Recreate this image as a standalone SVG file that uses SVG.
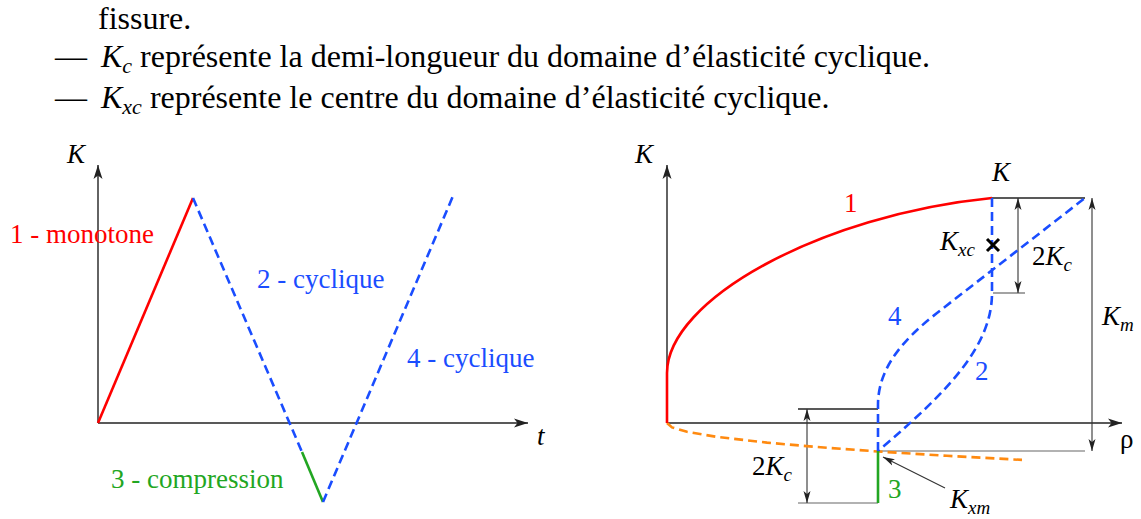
<svg xmlns="http://www.w3.org/2000/svg" width="1141" height="519" viewBox="0 0 1141 519">
<defs>
<style>
text{font-family:'Liberation Serif','Times New Roman','DejaVu Serif',serif;}
.top{font-size:32px;fill:#000;}
.lbl{font-size:27px;}
.it{font-style:italic;}
.sub{font-size:19px;font-style:italic;}
.axis{stroke:#222;stroke-width:1.4;fill:none;}
.dim{stroke:#333;stroke-width:1.1;fill:none;}
.gray{stroke:#666;stroke-width:1.2;fill:none;}
.red{stroke:#ff0000;stroke-width:2.6;fill:none;}
.blue{stroke:#1a4dff;stroke-width:2.6;fill:none;stroke-dasharray:9 5;}
.green{stroke:#22a622;stroke-width:2.6;fill:none;}
.orange{stroke:#ff8a10;stroke-width:2.6;fill:none;stroke-dasharray:9 5;}
</style>
<marker id="ah" markerUnits="userSpaceOnUse" markerWidth="14" markerHeight="10" refX="14" refY="5" orient="auto-start-reverse">
<path d="M0,0.5 L14,5 L0,9.5 L3.5,5 z" fill="#222"/>
</marker>
<marker id="ad" markerUnits="userSpaceOnUse" markerWidth="12" markerHeight="8" refX="12" refY="4" orient="auto-start-reverse">
<path d="M0,0.5 L12,4 L0,7.5 L3,4 z" fill="#222"/>
</marker>
</defs>

<g id="header" font-family="Liberation Serif, serif">
<text class="top" x="98" y="29" font-family="Liberation Serif, serif">fissure.</text>
<text class="top" x="55" y="67" font-family="Liberation Serif, serif">—<tspan x="101" class="it">K</tspan><tspan font-size="22" font-style="italic" dy="6">c</tspan><tspan dy="-6"> représente la demi-longueur du domaine d’élasticité cyclique.</tspan></text>
<text class="top" x="55" y="108" font-family="Liberation Serif, serif">—<tspan x="101" class="it">K</tspan><tspan font-size="22" font-style="italic" dy="6">xc</tspan><tspan dy="-6"> représente le centre du domaine d’élasticité cyclique.</tspan></text>
</g>

<g id="left-chart" font-family="Liberation Serif, serif">
<g id="left-axes">
<line class="axis" x1="98" y1="423" x2="98" y2="165" marker-end="url(#ah)"/>
<line class="axis" x1="98" y1="423" x2="528" y2="423" marker-end="url(#ah)"/>
<text class="lbl it" x="67" y="163" font-family="Liberation Serif, serif">K</text>
<text class="lbl it" x="537" y="445" font-family="Liberation Serif, serif">t</text>
</g>
<g id="left-curves">
<line class="red" x1="98" y1="423" x2="193" y2="198"/>
<line class="blue" x1="193" y1="198" x2="302" y2="452"/>
<line class="green" x1="302" y1="452" x2="323" y2="502"/>
<line class="blue" x1="323" y1="502" x2="453" y2="196"/>
</g>
<g id="left-labels">
<text class="lbl" x="10" y="243" fill="#ff0000" font-family="Liberation Serif, serif">1 - monotone</text>
<text class="lbl" x="257" y="288" fill="#1a4dff" font-family="Liberation Serif, serif">2 - cyclique</text>
<text class="lbl" x="407" y="367" fill="#1a4dff" font-family="Liberation Serif, serif">4 - cyclique</text>
<text class="lbl" x="111" y="488" fill="#22a622" font-family="Liberation Serif, serif">3 - compression</text>
</g>
</g>

<g id="right-chart" font-family="Liberation Serif, serif">
<g id="right-axes">
<line class="axis" x1="667" y1="423" x2="667" y2="165" marker-end="url(#ah)"/>
<line class="axis" x1="667" y1="423" x2="1122" y2="423" marker-end="url(#ah)"/>
<text class="lbl it" x="635" y="163" font-family="Liberation Serif, serif">K</text>
<text class="lbl" x="1120" y="448" font-family="Liberation Sans, sans-serif">ρ</text>
</g>
<g id="connectors">
<line class="axis" x1="992" y1="198" x2="1085" y2="198"/>
<line class="gray" x1="993" y1="293" x2="1025" y2="293"/>
<line class="dim" x1="1018" y1="198" x2="1018" y2="293" marker-start="url(#ad)" marker-end="url(#ad)"/>
<line class="gray" x1="878" y1="451" x2="1085" y2="451"/>
<line class="dim" x1="1092" y1="198" x2="1092" y2="451" marker-start="url(#ad)" marker-end="url(#ad)"/>
<line class="axis" x1="798" y1="409" x2="878" y2="409"/>
<line class="gray" x1="798" y1="503" x2="878" y2="503"/>
<line class="dim" x1="807" y1="409" x2="807" y2="503" marker-start="url(#ad)" marker-end="url(#ad)"/>
<line class="dim" x1="945" y1="488" x2="883" y2="457" marker-end="url(#ad)"/>
</g>
<g id="right-curves">
<path class="orange" d="M667,423 L672,427.4 L687,431.8 L717,436.9 L767,442.6 L817,447 L878,451.5 L947,455.8 L1022,459.9"/>
<path class="red" d="M667,423 L667,373 C667,300 820,215 992,198"/>
<path class="blue" d="M992,198 L992,293 C992,345 950,390 878,451"/>
<path class="blue" d="M878,451 L878,405 C878,370 900,342 937,313 L1085,198"/>
<line class="green" x1="878" y1="451" x2="878" y2="503"/>
<path d="M987,239 L999,251 M999,239 L987,251" stroke="#000" stroke-width="3"/>
</g>
<g id="right-labels">
<text class="lbl it" x="992" y="181" font-family="Liberation Serif, serif">K</text>
<text class="lbl" x="940" y="250" font-family="Liberation Serif, serif"><tspan class="it">K</tspan><tspan class="sub" dy="6">xc</tspan></text>
<text class="lbl" x="1032" y="265" font-family="Liberation Serif, serif">2<tspan class="it">K</tspan><tspan class="sub" dy="6">c</tspan></text>
<text class="lbl" x="1102" y="325" font-family="Liberation Serif, serif"><tspan class="it">K</tspan><tspan class="sub" dy="6">m</tspan></text>
<text class="lbl" x="752" y="475" font-family="Liberation Serif, serif">2<tspan class="it">K</tspan><tspan class="sub" dy="6">c</tspan></text>
<text class="lbl" x="950" y="508" font-family="Liberation Serif, serif"><tspan class="it">K</tspan><tspan class="sub" dy="6">xm</tspan></text>
<text class="lbl" x="844" y="212" fill="#ff0000" font-family="Liberation Serif, serif">1</text>
<text class="lbl" x="888" y="325" fill="#1a4dff" font-family="Liberation Serif, serif">4</text>
<text class="lbl" x="975" y="380" fill="#1a4dff" font-family="Liberation Serif, serif">2</text>
<text class="lbl" x="888" y="498" fill="#22a622" font-family="Liberation Serif, serif">3</text>
</g>
</g>
</svg>
